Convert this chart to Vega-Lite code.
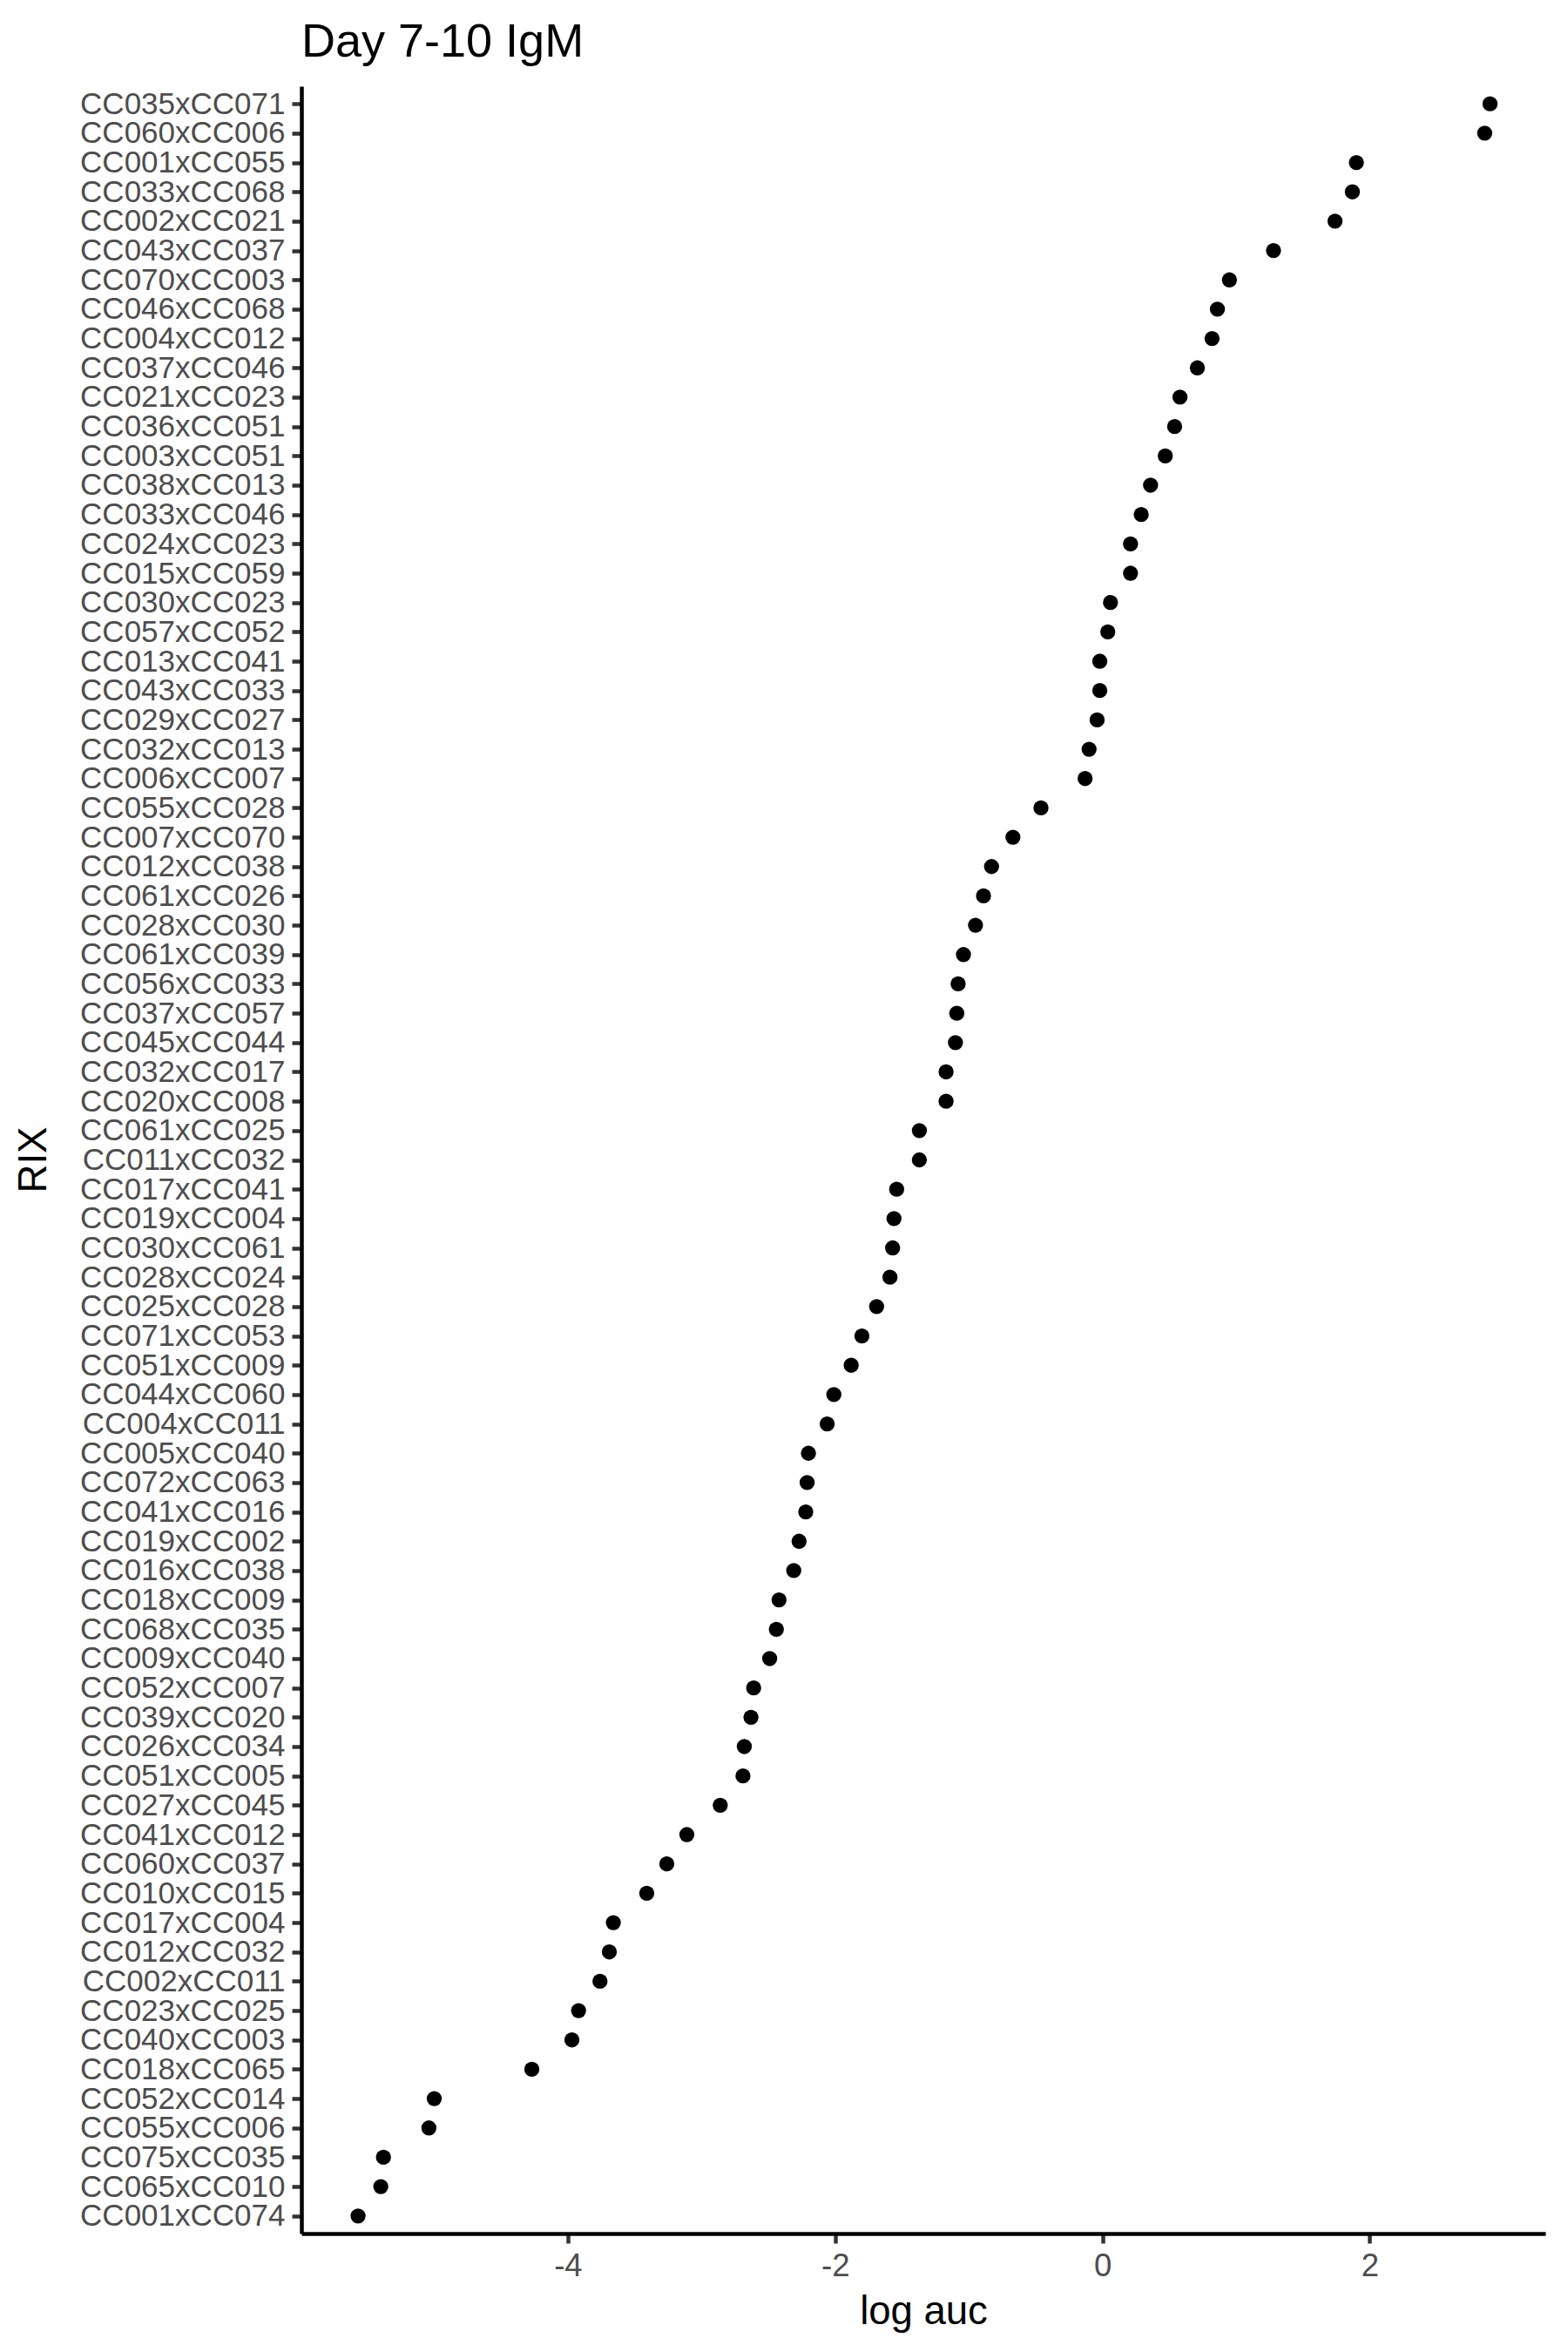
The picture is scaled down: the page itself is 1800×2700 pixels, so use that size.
{
  "$schema": "https://vega.github.io/schema/vega-lite/v6.json",
  "autosize": {"type": "none"},
  "width": 1428,
  "height": 2465,
  "padding": {"left": 346, "top": 99, "right": 26, "bottom": 136},
  "background": "white",
  "title": {
    "text": "Day 7-10 IgM",
    "anchor": "start",
    "frame": "group",
    "offset": 23,
    "font": "Liberation Sans",
    "fontSize": 54,
    "fontWeight": "normal",
    "color": "#000000"
  },
  "config": {
    "view": {"stroke": null},
    "font": "Liberation Sans"
  },
  "data": {
    "values": [
      {"RIX": "CC035xCC071", "log_auc": 2.90},
      {"RIX": "CC060xCC006", "log_auc": 2.86},
      {"RIX": "CC001xCC055", "log_auc": 1.90},
      {"RIX": "CC033xCC068", "log_auc": 1.87},
      {"RIX": "CC002xCC021", "log_auc": 1.74},
      {"RIX": "CC043xCC037", "log_auc": 1.28},
      {"RIX": "CC070xCC003", "log_auc": 0.95},
      {"RIX": "CC046xCC068", "log_auc": 0.86},
      {"RIX": "CC004xCC012", "log_auc": 0.82},
      {"RIX": "CC037xCC046", "log_auc": 0.71},
      {"RIX": "CC021xCC023", "log_auc": 0.58},
      {"RIX": "CC036xCC051", "log_auc": 0.54},
      {"RIX": "CC003xCC051", "log_auc": 0.47},
      {"RIX": "CC038xCC013", "log_auc": 0.36},
      {"RIX": "CC033xCC046", "log_auc": 0.29},
      {"RIX": "CC024xCC023", "log_auc": 0.21},
      {"RIX": "CC015xCC059", "log_auc": 0.21},
      {"RIX": "CC030xCC023", "log_auc": 0.06},
      {"RIX": "CC057xCC052", "log_auc": 0.04},
      {"RIX": "CC013xCC041", "log_auc": -0.02},
      {"RIX": "CC043xCC033", "log_auc": -0.02},
      {"RIX": "CC029xCC027", "log_auc": -0.04},
      {"RIX": "CC032xCC013", "log_auc": -0.10},
      {"RIX": "CC006xCC007", "log_auc": -0.13},
      {"RIX": "CC055xCC028", "log_auc": -0.46},
      {"RIX": "CC007xCC070", "log_auc": -0.67},
      {"RIX": "CC012xCC038", "log_auc": -0.83},
      {"RIX": "CC061xCC026", "log_auc": -0.89},
      {"RIX": "CC028xCC030", "log_auc": -0.95},
      {"RIX": "CC061xCC039", "log_auc": -1.04},
      {"RIX": "CC056xCC033", "log_auc": -1.08},
      {"RIX": "CC037xCC057", "log_auc": -1.09},
      {"RIX": "CC045xCC044", "log_auc": -1.10},
      {"RIX": "CC032xCC017", "log_auc": -1.17},
      {"RIX": "CC020xCC008", "log_auc": -1.17},
      {"RIX": "CC061xCC025", "log_auc": -1.37},
      {"RIX": "CC011xCC032", "log_auc": -1.37},
      {"RIX": "CC017xCC041", "log_auc": -1.54},
      {"RIX": "CC019xCC004", "log_auc": -1.56},
      {"RIX": "CC030xCC061", "log_auc": -1.57},
      {"RIX": "CC028xCC024", "log_auc": -1.59},
      {"RIX": "CC025xCC028", "log_auc": -1.69},
      {"RIX": "CC071xCC053", "log_auc": -1.80},
      {"RIX": "CC051xCC009", "log_auc": -1.88},
      {"RIX": "CC044xCC060", "log_auc": -2.01},
      {"RIX": "CC004xCC011", "log_auc": -2.06},
      {"RIX": "CC005xCC040", "log_auc": -2.20},
      {"RIX": "CC072xCC063", "log_auc": -2.21},
      {"RIX": "CC041xCC016", "log_auc": -2.22},
      {"RIX": "CC019xCC002", "log_auc": -2.27},
      {"RIX": "CC016xCC038", "log_auc": -2.31},
      {"RIX": "CC018xCC009", "log_auc": -2.42},
      {"RIX": "CC068xCC035", "log_auc": -2.44},
      {"RIX": "CC009xCC040", "log_auc": -2.49},
      {"RIX": "CC052xCC007", "log_auc": -2.61},
      {"RIX": "CC039xCC020", "log_auc": -2.63},
      {"RIX": "CC026xCC034", "log_auc": -2.68},
      {"RIX": "CC051xCC005", "log_auc": -2.69},
      {"RIX": "CC027xCC045", "log_auc": -2.86},
      {"RIX": "CC041xCC012", "log_auc": -3.11},
      {"RIX": "CC060xCC037", "log_auc": -3.26},
      {"RIX": "CC010xCC015", "log_auc": -3.41},
      {"RIX": "CC017xCC004", "log_auc": -3.66},
      {"RIX": "CC012xCC032", "log_auc": -3.69},
      {"RIX": "CC002xCC011", "log_auc": -3.76},
      {"RIX": "CC023xCC025", "log_auc": -3.92},
      {"RIX": "CC040xCC003", "log_auc": -3.97},
      {"RIX": "CC018xCC065", "log_auc": -4.27},
      {"RIX": "CC052xCC014", "log_auc": -5.00},
      {"RIX": "CC055xCC006", "log_auc": -5.04},
      {"RIX": "CC075xCC035", "log_auc": -5.38},
      {"RIX": "CC065xCC010", "log_auc": -5.40},
      {"RIX": "CC001xCC074", "log_auc": -5.57}
    ]
  },
  "mark": {"type": "point", "filled": true, "shape": "circle", "size": 300, "color": "#000000", "opacity": 1},
  "encoding": {
    "x": {
      "field": "log_auc",
      "type": "quantitative",
      "title": "log auc",
      "scale": {"domain": [-5.994, 3.314], "nice": false, "zero": false},
      "axis": {
        "values": [-4, -2, 0, 2],
        "labelExpr": "datum.value + ''",
        "grid": false,
        "domainColor": "#000000",
        "domainWidth": 4.5,
        "tickColor": "#333333",
        "tickWidth": 4.5,
        "tickSize": 11,
        "labelFont": "Liberation Sans",
        "labelFontSize": 36.5,
        "labelColor": "#4D4D4D",
        "labelPadding": 8,
        "titleFont": "Liberation Sans",
        "titleFontSize": 45.5,
        "titleFontWeight": "normal",
        "titleColor": "#000000",
        "titlePadding": 12
      }
    },
    "y": {
      "field": "RIX",
      "type": "nominal",
      "title": "RIX",
      "sort": null,
      "scale": {"type": "point", "padding": 0.6},
      "axis": {
        "grid": false,
        "domainColor": "#000000",
        "domainWidth": 4.5,
        "tickColor": "#333333",
        "tickWidth": 4.5,
        "tickSize": 11,
        "labelFont": "Liberation Sans",
        "labelFontSize": 35,
        "labelColor": "#4D4D4D",
        "labelPadding": 8,
        "labelLimit": 0,
        "labelOverlap": false,
        "labelBound": false,
        "titleFont": "Liberation Sans",
        "titleFontSize": 45.5,
        "titleFontWeight": "normal",
        "titleColor": "#000000",
        "titleAngle": -90,
        "titleX": -308,
        "titleY": 1232,
        "titleAlign": "center",
        "titleBaseline": "middle"
      }
    }
  }
}
